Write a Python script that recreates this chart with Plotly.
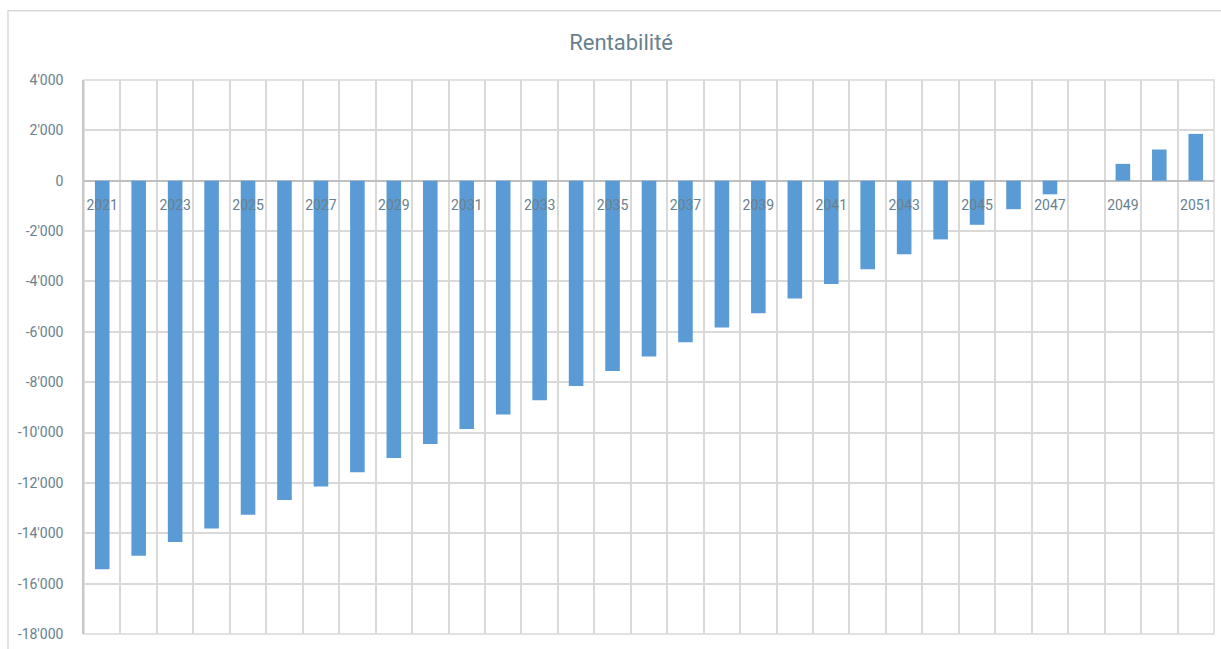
import plotly.graph_objects as go

# Annual profitability, 2021-2051
years = list(range(2021, 2052))
rentabilite = [
    -15430, -14890, -14350, -13810, -13260, -12680, -12140, -11580, -11010, -10450,
    -9860, -9280, -8720, -8150, -7560, -6980, -6410, -5830, -5260, -4680,
    -4100, -3520, -2920, -2330, -1750, -1130, -540, 0, 670, 1240, 1860,
]

# Axis labels
x_tick_years = years[::2]
y_tick_values = [4000, 2000, 0, -2000, -4000, -6000, -8000, -10000,
                 -12000, -14000, -16000, -18000]
y_tick_labels = ["4'000", "2'000", "0", "-2'000", "-4'000", "-6'000", "-8'000",
                 "-10'000", "-12'000", "-14'000", "-16'000", "-18'000"]

Y_MIN, Y_MAX = -18000, 4000
TEXT = "#68818F"
GRID = "#D9D9D9"

fig = go.Figure(
    go.Bar(
        x=years,
        y=rentabilite,
        width=0.4,
        marker=dict(color="#5B9BD5", line=dict(width=0)),
        hoverinfo="x+y",
    )
)

# place the category axis on the zero line
zero_pos = (0 - Y_MIN) / (Y_MAX - Y_MIN)

fig.update_layout(
    width=1221,
    height=649,
    margin=dict(l=84, r=7, t=80, b=13),
    paper_bgcolor="white",
    plot_bgcolor="white",
    showlegend=False,
    bargap=0.6,
    font=dict(family="Roboto", color=TEXT),
    title=dict(
        text="Rentabilité",
        x=0.5087,
        xanchor="center",
        y=1 - 42 / 649,
        yanchor="middle",
        font=dict(family="Roboto", size=22, color=TEXT),
    ),
    xaxis=dict(
        range=[years[0] - 0.5, years[-1] + 0.5],
        tickmode="array",
        tickvals=x_tick_years,
        ticktext=[str(y) for y in x_tick_years],
        showgrid=False,
        showline=False,
        zeroline=False,
        ticks="",
        anchor="free",
        position=zero_pos,
        ticklabelstandoff=14,
        tickfont=dict(family="Roboto", size=14, color=TEXT),
        minor=dict(
            tickmode="linear",
            tick0=years[0] - 0.5,
            dtick=1,
            showgrid=True,
            gridcolor=GRID,
            gridwidth=1.5,
            ticks="",
        ),
        fixedrange=True,
    ),
    yaxis=dict(
        range=[Y_MIN, Y_MAX],
        tickmode="array",
        tickvals=y_tick_values,
        ticktext=y_tick_labels,
        showgrid=True,
        gridcolor=GRID,
        gridwidth=1.5,
        zeroline=True,
        zerolinecolor="#BFBFBF",
        zerolinewidth=1.5,
        showline=True,
        linecolor="#C8C8C8",
        linewidth=1.5,
        ticks="",
        ticklabelstandoff=16,
        tickfont=dict(family="Roboto", size=14, color=TEXT),
        fixedrange=True,
    ),
    shapes=[
        # outer chart frame
        dict(
            type="rect",
            xref="paper",
            yref="paper",
            x0=(8 - 84) / 1130,
            x1=(1224 - 84) / 1130,
            y0=(636 - 652) / 556,
            y1=(636 - 10.5) / 556,
            line=dict(color="#D9D9D9", width=1.5),
            fillcolor="rgba(0,0,0,0)",
            layer="below",
        ),
        # plot-area frame (top and bottom gridlines at the range limits)
        dict(
            type="rect",
            xref="paper",
            yref="paper",
            x0=0,
            x1=1,
            y0=0,
            y1=1,
            line=dict(color=GRID, width=1.5),
            fillcolor="rgba(0,0,0,0)",
            layer="below",
        ),
    ],
)

fig.write_html("out.html")
